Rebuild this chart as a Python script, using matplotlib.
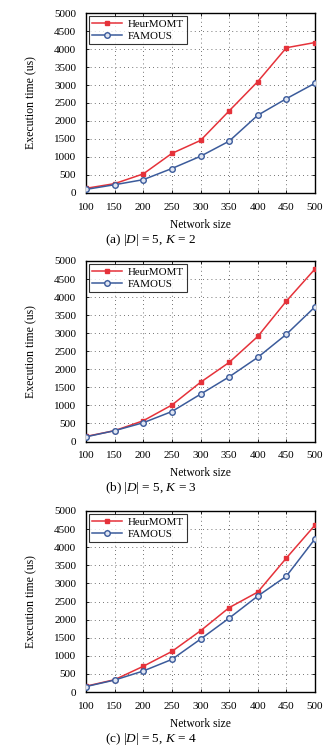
import matplotlib
matplotlib.use("Agg")
import matplotlib.pyplot as plt

plt.rcParams["font.family"] = ["Liberation Serif", "DejaVu Serif"]
plt.rcParams["mathtext.fontset"] = "custom"
plt.rcParams["mathtext.it"] = "Liberation Serif:italic"
plt.rcParams["mathtext.rm"] = "Liberation Serif"

network_size = [100, 150, 200, 250, 300, 350, 400, 450, 500]

heur_k2 = [130, 260, 530, 1100, 1460, 2280, 3095, 4035, 4180]
famous_k2 = [100, 230, 370, 680, 1020, 1440, 2160, 2620, 3050]

heur_k3 = [140, 300, 575, 1010, 1640, 2190, 2910, 3890, 4780]
famous_k3 = [130, 300, 520, 830, 1310, 1790, 2330, 2970, 3730]

heur_k4 = [160, 340, 710, 1120, 1690, 2330, 2760, 3700, 4610]
famous_k4 = [150, 330, 580, 900, 1460, 2040, 2650, 3200, 4230]

panels = [
    (heur_k2, famous_k2, "(a) $|D|$ = 5, $K$ = 2"),
    (heur_k3, famous_k3, "(b) $|D|$ = 5, $K$ = 3"),
    (heur_k4, famous_k4, "(c) $|D|$ = 5, $K$ = 4"),
]

W, H = 336, 751
fig = plt.figure(figsize=(W / 100, H / 100), dpi=100)

# axes boxes in pixels: top, bottom
boxes = [(13, 193), (261, 441.5), (511, 692)]
left, right = 86, 315

red = "#e5323a"
blue = "#3b5b9b"

for (heur, famous, caption), (top, bottom) in zip(panels, boxes):
    ax = fig.add_axes([left / W, 1 - bottom / H, (right - left) / W, (bottom - top) / H])
    ax.plot(network_size, heur, color=red, lw=1.1, marker="s", ms=2.3,
            mfc=red, mec=red, label="HeurMOMT", zorder=3)
    ax.plot(network_size, famous, color=blue, lw=1.1, marker="o", ms=4.0,
            mfc="#dfe5f2", mec=blue, mew=1.0, label="FAMOUS", zorder=3)
    ax.set_xlim(100, 500)
    ax.set_ylim(0, 5000)
    ax.set_xticks(network_size)
    ax.set_yticks(range(0, 5001, 500))
    ax.grid(True, color="#444444", linestyle=(0, (1, 4)), linewidth=0.6)
    ax.tick_params(direction="in", labelsize=8, length=2.5, width=0.6,
                   top=True, right=True)
    ax.tick_params(axis="y", pad=7)
    ax.tick_params(axis="x", pad=7)
    for s in ax.spines.values():
        s.set_linewidth(1.0)
    ax.set_xlabel("Network size", fontsize=8.3, labelpad=5)
    ax.set_ylabel("Execution time (us)", fontsize=8.5, labelpad=12)
    leg = ax.legend(loc="upper left", fontsize=7.8, frameon=True, fancybox=False,
                    edgecolor="black", borderaxespad=0.25, handlelength=2.8,
                    handletextpad=0.5, borderpad=0.3, labelspacing=0.25)
    leg.get_frame().set_linewidth(0.8)
    fig.text(151 / W, 1 - (bottom + 47) / H, caption,
             ha="center", va="center", fontsize=9.5)

fig.savefig("out.png", dpi=100)
